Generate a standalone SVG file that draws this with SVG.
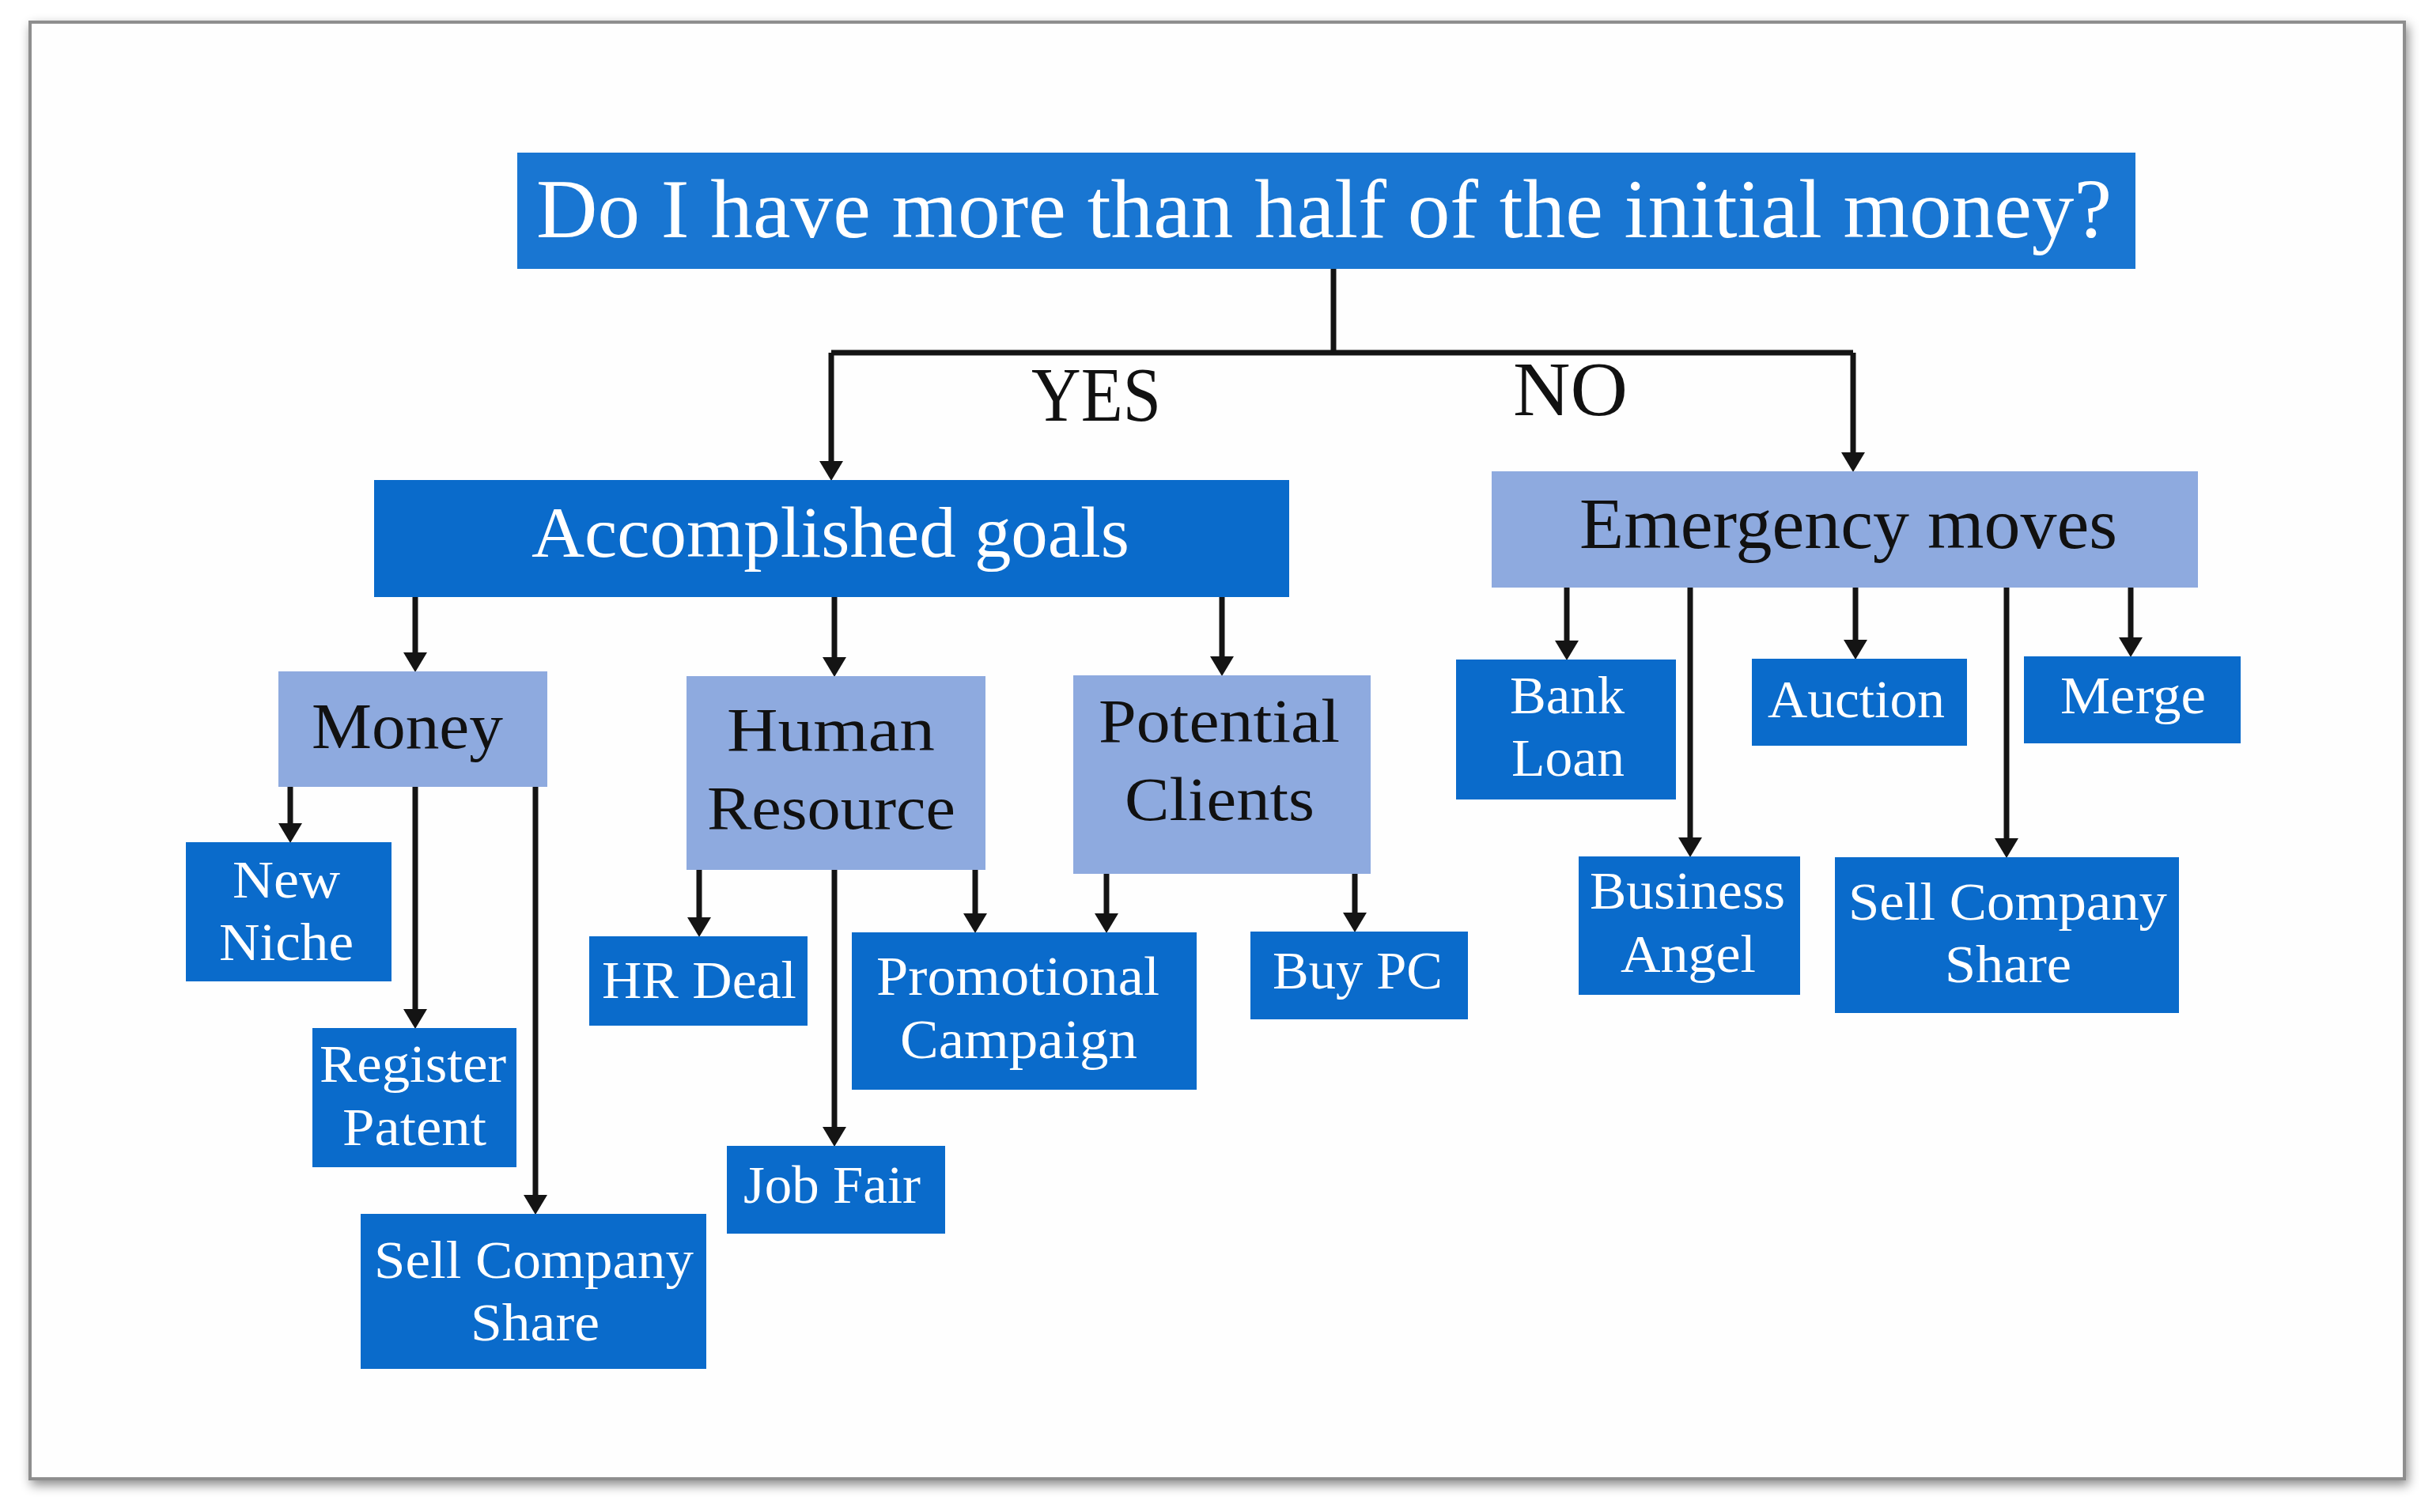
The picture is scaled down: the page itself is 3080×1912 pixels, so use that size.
<svg xmlns="http://www.w3.org/2000/svg" width="3080" height="1912" viewBox="0 0 3080 1912">
<style>
.dk{fill:#0A6BCB}
.top{fill:#1976D2}
.lt{fill:#8EAADF}
text{font-family:"Liberation Serif","Times New Roman",serif}
.w{fill:#FFFFFF}
.b{fill:#111111}
.con path{fill:none;stroke:#141414;stroke-width:7}
</style>
<defs>
<marker id="ah" markerUnits="userSpaceOnUse" markerWidth="26" markerHeight="32" refX="6" refY="16" orient="auto">
<path d="M0,1 L25,16 L0,31 z" fill="#141414"/>
</marker>
<filter id="sh" x="-5%" y="-5%" width="110%" height="110%">
<feDropShadow dx="3" dy="6" stdDeviation="7" flood-color="#000" flood-opacity="0.45"/>
</filter>
</defs>
<rect width="3080" height="1912" fill="#FFFFFF"/>
<rect x="38" y="28" width="3002" height="1842" fill="#FEFEFE" stroke="#8E8E8E" stroke-width="4" filter="url(#sh)"/>

<g class="con">
<path d="M1686,340 V446"/>
<path d="M1051,446 H2343"/>
<path d="M1051,446 V589" marker-end="url(#ah)"/>
<path d="M2343,446 V578" marker-end="url(#ah)"/>
<path d="M525,755 V831" marker-end="url(#ah)"/>
<path d="M1055,755 V837" marker-end="url(#ah)"/>
<path d="M1545,755 V836" marker-end="url(#ah)"/>
<path d="M367,995 V1047" marker-end="url(#ah)"/>
<path d="M525,995 V1282" marker-end="url(#ah)"/>
<path d="M677,995 V1517" marker-end="url(#ah)"/>
<path d="M884,1100 V1166" marker-end="url(#ah)"/>
<path d="M1055,1100 V1431" marker-end="url(#ah)"/>
<path d="M1233,1100 V1161" marker-end="url(#ah)"/>
<path d="M1399,1105 V1161" marker-end="url(#ah)"/>
<path d="M1713,1105 V1160" marker-end="url(#ah)"/>
<path d="M1981,743 V816" marker-end="url(#ah)"/>
<path d="M2137,743 V1065" marker-end="url(#ah)"/>
<path d="M2346,743 V815" marker-end="url(#ah)"/>
<path d="M2537,743 V1066" marker-end="url(#ah)"/>
<path d="M2694,743 V812" marker-end="url(#ah)"/>
</g>

<g id="labels">
<text class="b" x="1304" y="532" font-size="97" textLength="164" lengthAdjust="spacingAndGlyphs">YES</text>
<text class="b" x="1913" y="525" font-size="97" textLength="145" lengthAdjust="spacingAndGlyphs">NO</text>
</g>

<g id="n-question">
<rect class="top" x="654" y="193" width="2046" height="147"/>
<text class="w" x="678" y="300" font-size="106" textLength="1992" lengthAdjust="spacingAndGlyphs">Do I have more than half of the initial money?</text>
</g>
<g id="n-accomplished">
<rect class="dk" x="473" y="607" width="1157" height="148"/>
<text class="w" x="672" y="704" font-size="92" textLength="756" lengthAdjust="spacingAndGlyphs">Accomplished goals</text>
</g>
<g id="n-emergency">
<rect class="lt" x="1886" y="596" width="893" height="147"/>
<text class="b" x="1997" y="693" font-size="90" textLength="680" lengthAdjust="spacingAndGlyphs">Emergency moves</text>
</g>
<g id="n-money">
<rect class="lt" x="352" y="849" width="340" height="146"/>
<text class="b" x="394" y="946" font-size="82" textLength="242" lengthAdjust="spacingAndGlyphs">Money</text>
</g>
<g id="n-human">
<rect class="lt" x="868" y="855" width="378" height="245"/>
<text class="b" x="919" y="949" font-size="78" textLength="263" lengthAdjust="spacingAndGlyphs">Human</text>
<text class="b" x="894" y="1048" font-size="78" textLength="314" lengthAdjust="spacingAndGlyphs">Resource</text>
</g>
<g id="n-potential">
<rect class="lt" x="1357" y="854" width="376" height="251"/>
<text class="b" x="1389" y="938" font-size="78" textLength="305" lengthAdjust="spacingAndGlyphs">Potential</text>
<text class="b" x="1422" y="1037" font-size="78" textLength="240" lengthAdjust="spacingAndGlyphs">Clients</text>
</g>
<g id="n-newniche">
<rect class="dk" x="235" y="1065" width="260" height="176"/>
<text class="w" x="294" y="1135" font-size="68" textLength="136" lengthAdjust="spacingAndGlyphs">New</text>
<text class="w" x="277" y="1214" font-size="68" textLength="170" lengthAdjust="spacingAndGlyphs">Niche</text>
</g>
<g id="n-register">
<rect class="dk" x="395" y="1300" width="258" height="176"/>
<text class="w" x="404" y="1368" font-size="68" textLength="236" lengthAdjust="spacingAndGlyphs">Register</text>
<text class="w" x="433" y="1448" font-size="68" textLength="182" lengthAdjust="spacingAndGlyphs">Patent</text>
</g>
<g id="n-sellshare-left">
<rect class="dk" x="456" y="1535" width="437" height="196"/>
<text class="w" x="473" y="1616" font-size="68" textLength="404" lengthAdjust="spacingAndGlyphs">Sell Company</text>
<text class="w" x="595" y="1695" font-size="68" textLength="163" lengthAdjust="spacingAndGlyphs">Share</text>
</g>
<g id="n-hrdeal">
<rect class="dk" x="745" y="1184" width="276" height="113"/>
<text class="w" x="761" y="1262" font-size="68" textLength="246" lengthAdjust="spacingAndGlyphs">HR Deal</text>
</g>
<g id="n-jobfair">
<rect class="dk" x="919" y="1449" width="276" height="111"/>
<text class="w" x="940" y="1521" font-size="68" textLength="224" lengthAdjust="spacingAndGlyphs">Job Fair</text>
</g>
<g id="n-promo">
<rect class="dk" x="1077" y="1179" width="436" height="199"/>
<text class="w" x="1108" y="1258" font-size="70" textLength="358" lengthAdjust="spacingAndGlyphs">Promotional</text>
<text class="w" x="1138" y="1338" font-size="70" textLength="300" lengthAdjust="spacingAndGlyphs">Campaign</text>
</g>
<g id="n-buypc">
<rect class="dk" x="1581" y="1178" width="275" height="111"/>
<text class="w" x="1609" y="1250" font-size="68" textLength="215" lengthAdjust="spacingAndGlyphs">Buy PC</text>
</g>
<g id="n-bankloan">
<rect class="dk" x="1841" y="834" width="278" height="177"/>
<text class="w" x="1909" y="902" font-size="68" textLength="145" lengthAdjust="spacingAndGlyphs">Bank</text>
<text class="w" x="1911" y="981" font-size="68" textLength="143" lengthAdjust="spacingAndGlyphs">Loan</text>
</g>
<g id="n-auction">
<rect class="dk" x="2215" y="833" width="272" height="110"/>
<text class="w" x="2235" y="907" font-size="68" textLength="224" lengthAdjust="spacingAndGlyphs">Auction</text>
</g>
<g id="n-merge">
<rect class="dk" x="2559" y="830" width="274" height="110"/>
<text class="w" x="2605" y="902" font-size="68" textLength="184" lengthAdjust="spacingAndGlyphs">Merge</text>
</g>
<g id="n-angel">
<rect class="dk" x="1996" y="1083" width="280" height="175"/>
<text class="w" x="2010" y="1149" font-size="68" textLength="247" lengthAdjust="spacingAndGlyphs">Business</text>
<text class="w" x="2049" y="1229" font-size="68" textLength="171" lengthAdjust="spacingAndGlyphs">Angel</text>
</g>
<g id="n-sellshare-right">
<rect class="dk" x="2320" y="1084" width="435" height="197"/>
<text class="w" x="2337" y="1163" font-size="68" textLength="403" lengthAdjust="spacingAndGlyphs">Sell Company</text>
<text class="w" x="2459" y="1242" font-size="68" textLength="160" lengthAdjust="spacingAndGlyphs">Share</text>
</g>
</svg>
